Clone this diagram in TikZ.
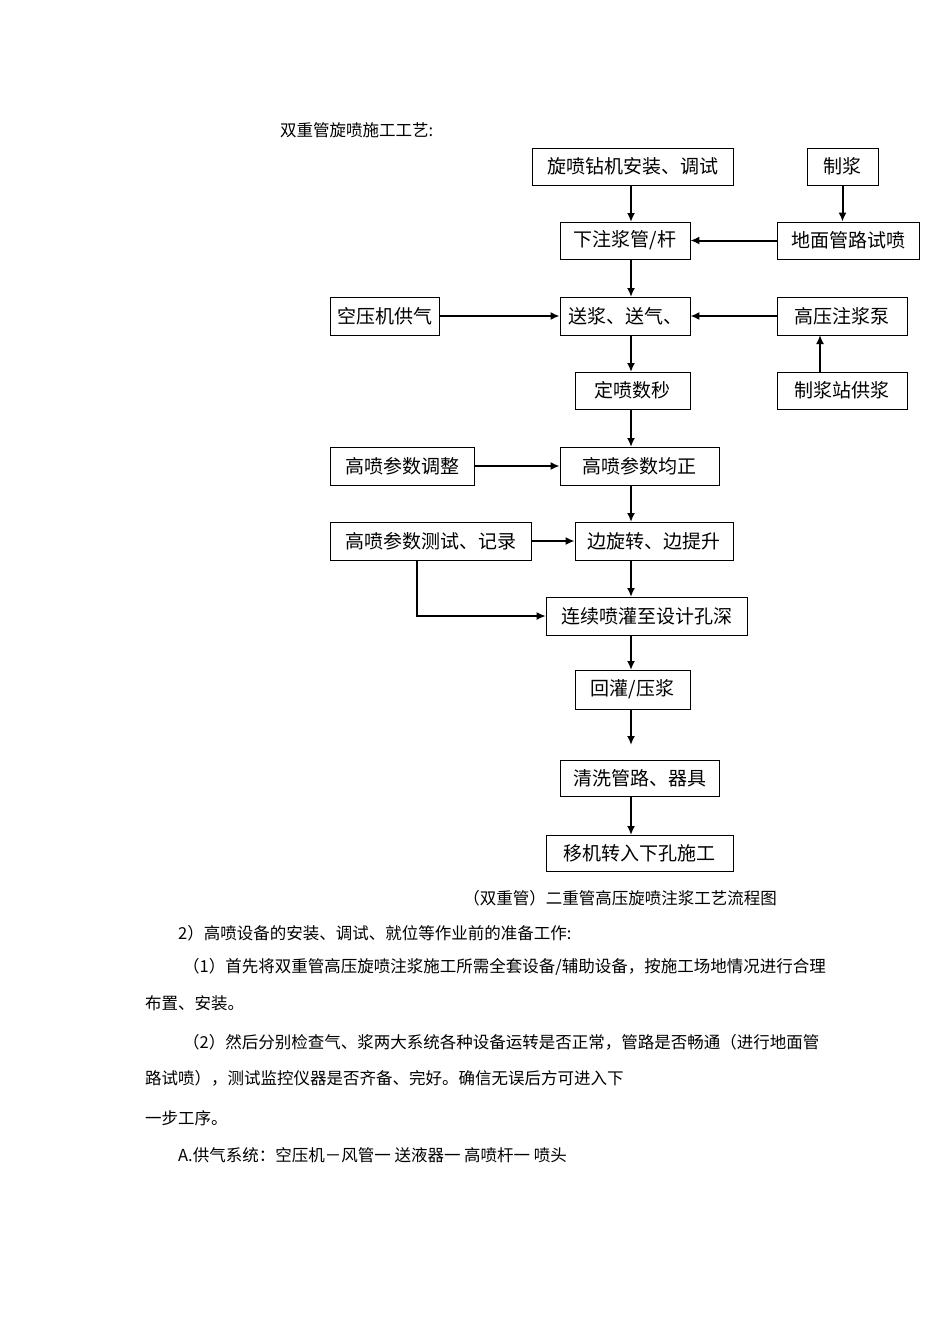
\documentclass[tikz,border=0pt]{standalone}
\usepackage{fontspec}
\setmainfont{Noto Sans CJK SC}
\usetikzlibrary{arrows.meta,shadows}
\begin{document}
\begin{tikzpicture}[x=1pt,y=-1pt,
 box/.style={draw,line width=0.8pt,fill=white,inner sep=0pt,font=\fontsize{19}{19}\selectfont,
   drop shadow={shadow xshift=1.3pt,shadow yshift=-1.3pt,fill=black,opacity=1}},
 arr/.style={line width=2pt,-{Latex[length=9pt,width=8pt]}},
 body/.style={anchor=west,inner sep=0pt,font=\fontsize{16.5}{17}\selectfont}]
\useasboundingbox (0,0) rectangle (950,1344);
\newcommand{\bx}[6]{\node[box,minimum width=#4-#3,minimum height=#6-#5] (#1) at ({(#3+#4)/2},{(#5+#6)/2}) {#2};}
\bx{b1}{旋喷钻机安装、调试}{532}{733}{148}{185}
\bx{b2}{制浆}{807}{878}{148}{185}
\bx{b3}{下注浆管/杆}{560}{690}{222}{259}
\bx{b4}{地面管路试喷}{777}{919}{222}{259}
\bx{b5}{空压机供气}{330}{439}{297}{335}
\bx{b6}{送浆、送气、}{560}{690}{297}{335}
\bx{b7}{高压注浆泵}{777}{907}{297}{335}
\bx{b8}{定喷数秒}{575}{690}{372}{409}
\bx{b9}{制浆站供浆}{777}{907}{372}{409}
\bx{b10}{高喷参数调整}{330}{474}{447}{485}
\bx{b11}{高喷参数均正}{560}{719}{447}{485}
\bx{b12}{高喷参数测试、记录}{330}{531}{522}{560}
\bx{b13}{边旋转、边提升}{575}{733}{522}{560}
\bx{b14}{连续喷灌至设计孔深}{546}{747}{597}{635}
\bx{b15}{回灌/压浆}{575}{690}{670}{709}
\bx{b16}{清洗管路、器具}{560}{719}{760}{796}
\bx{b17}{移机转入下孔施工}{546}{733}{835}{871}
\coordinate (c15) at (631,745);
\draw[arr] (631,185) -- (631,222);
\draw[arr] (b2) -- (b2|-b4.north);
\draw[arr] (b4) -- (b3);
\draw[arr] (631,259) -- (631,297);
\draw[arr] (b5) -- (b6);
\draw[arr] (b7) -- (b6);
\draw[arr] (b9.north-|820,0) -- (820,335);
\draw[arr] (631,335) -- (631,372);
\draw[arr] (631,409) -- (631,447);
\draw[arr] (b10) -- (b11);
\draw[arr] (631,485) -- (631,522);
\draw[arr] (b12) -- (b13);
\draw[arr] (631,560) -- (631,597);
\draw[line width=1.3pt,-{Latex[length=9pt,width=8pt]}] (417,560) |- (b14.west);
\draw[arr] (631,635) -- (631,670);
\draw[arr] (631,709) -- (c15);
\draw[arr] (631,796) -- (631,835);
\node[body] (t0) at (280,130) {双重管旋喷施工工艺:};
\node[body,anchor=center] (t1) at (620,898) {（双重管）二重管高压旋喷注浆工艺流程图};
\node[body] (t2) at (178,933) {2）高喷设备的安装、调试、就位等作业前的准备工作:};
\node[body] (t3) at (183,967) {（1）首先将双重管高压旋喷注浆施工所需全套设备/辅助设备，按施工场地情况进行合理};
\node[body] (t4) at (145,1003) {布置、安装。};
\node[body] (t5) at (183,1042) {（2）然后分别检查气、浆两大系统各种设备运转是否正常，管路是否畅通（进行地面管};
\node[body] (t6) at (145,1078) {路试喷），测试监控仪器是否齐备、完好。确信无误后方可进入下};
\node[body] (t7) at (145,1118) {一步工序。};
\node[body] (t8) at (178,1155) {A.供气系统：空压机－风管一 送液器一 高喷杆一 喷头};
\end{tikzpicture}
\end{document}
